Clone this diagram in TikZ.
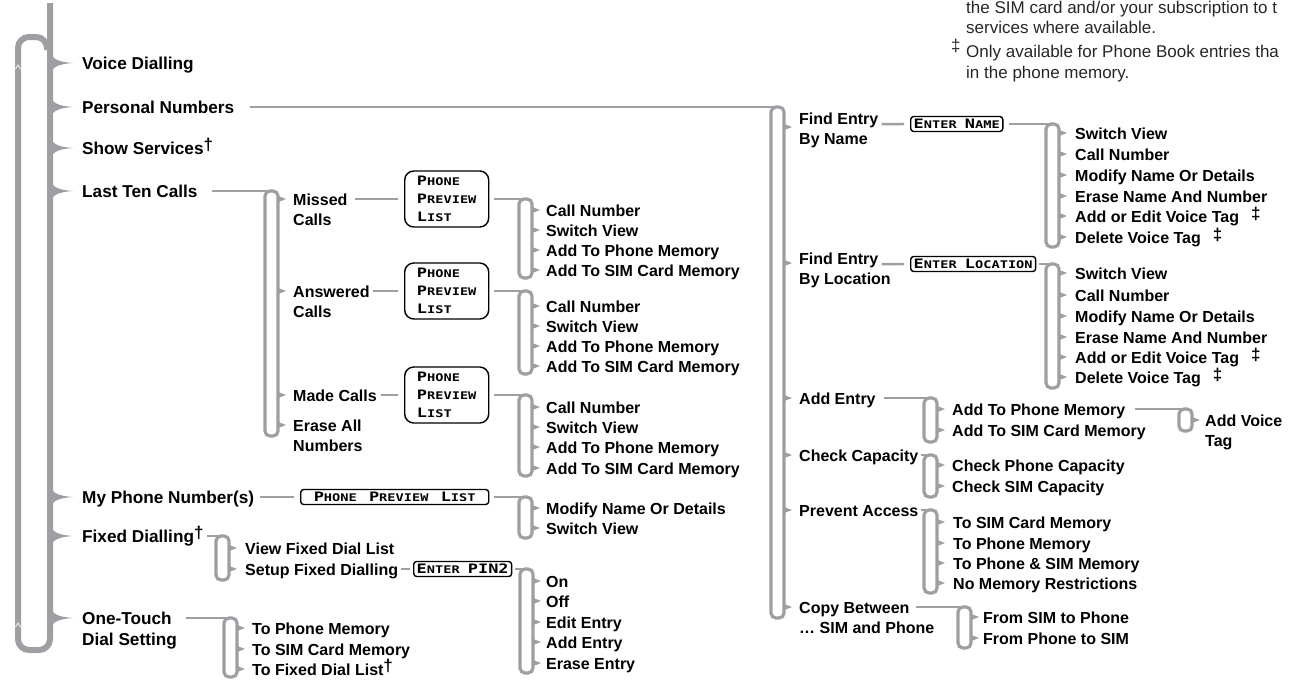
\documentclass[tikz,border=0pt]{standalone}
\usepackage{fontspec}
\setmainfont{Liberation Sans}
\newfontfamily\lcdfont[FakeStretch=1.3]{DejaVu Sans Mono}
\definecolor{brkgray}{RGB}{158,158,163}
\newcommand\lcd[2]{{\fontsize{13}{18}\selectfont #1}#2}
\newcommand\dg{\raisebox{3.5pt}{\fontsize{17}{17}\selectfont\bfseries †}}
\newcommand\ddg{\raisebox{3pt}{\fontsize{17}{17}\selectfont\bfseries ‡}}

\begin{document}
\begin{tikzpicture}[x=1pt, y=-1pt,
	lbl/.style={anchor=west, inner sep=0pt, text height=12pt, text depth=0pt, font=\fontsize{16}{19}\selectfont\bfseries},
	mainlbl/.style={lbl, font=\fontsize{17.2}{20}\selectfont\bfseries},
	note/.style={anchor=west, inner sep=0pt, text height=12pt, text depth=0pt, font=\fontsize{17}{20}\selectfont, text=black!85},
	lcdbox/.style={draw=black, line width=1.4pt, rounded corners=3pt, inner xsep=3pt, inner ysep=0pt, minimum height=15pt, anchor=west, font=\lcdfont\bfseries\fontsize{10.5}{18}\selectfont},
	lcdbig/.style={lcdbox, rounded corners=9pt, align=left, minimum width=84pt, minimum height=56pt},
	conn/.style={draw=brkgray, line width=2.4pt},
	brk/.style={draw=brkgray, line width=3.2pt, rounded corners=5pt},
	mainbrk/.style={draw=brkgray, line width=6pt, rounded corners=11pt},
	brktick/.pic={\fill[brkgray] (-1,-3.5) -- (8,0) -- (-1,3.5) -- cycle;},
	maintip/.pic={\fill[brkgray] (0,-12) .. controls (2,-3) and (10,-1) .. (23,0) .. controls (10,1) and (2,3) .. (0,12) -- cycle;}
	]
	\useasboundingbox (0,0) rectangle (1292,680);
	\clip (0,0) rectangle (1292,680);
	
	% ----- Hauptklammer -----
	\draw[mainbrk] (50,3) -- (50,650) -- (18,650) -- (18,37) -- (47,37) -- (47,50);
	\draw[white, line width=0.7pt] (15.5,69) -- (18,65) -- (20.5,69);
	\draw[white, line width=0.7pt] (15.5,627) -- (18,623) -- (20.5,627);
	\foreach \t in {63,107,148,191,497,536,618} \pic at (50,\t) {maintip};
	
	% Hauptmenue
	\node[mainlbl] (vd) at (82,63) {Voice Dialling};
	\node[mainlbl] (pn) at (82,107) {Personal Numbers};
	\node[mainlbl] (ss) at (82,148) {Show Services\dg};
	\node[mainlbl] (ltc) at (82,191) {Last Ten Calls};
	\node[mainlbl] (mpn) at (82,497) {My Phone Number(s)};
	\node[mainlbl] (fd) at (82,536) {Fixed Dialling\dg};
	\node[mainlbl] (ot) at (82,618) {One-Touch};
	\node[mainlbl] (ot2) at (82,639) {Dial Setting};
	
	% ----- Last Ten Calls -----
	\coordinate (bltc) at (271,191);
	\draw[conn, shorten <=14pt] (ltc.east) -- (bltc);
	\draw[brk] (265,191) rectangle (278,436);
	\foreach \t in {199,291,395,425} \pic at (278,\t) {brktick};
	\node[lbl] (mc) at (293,199) {Missed};
	\node[lbl] (mc2) at (293,219) {Calls};
	\node[lbl] (ac) at (293,291) {Answered};
	\node[lbl] (ac2) at (293,311) {Calls};
	\node[lbl] (md) at (293,395) {Made Calls};
	\node[lbl] (ea) at (293,425) {Erase All};
	\node[lbl] (ea2) at (293,445) {Numbers};
	
	% Phone Preview List
	\node[lcdbig] (ppl1) at (404,199) {\lcd{P}{HONE}\\\lcd{P}{REVIEW}\\\lcd{L}{IST}};
	\node[lcdbig] (ppl2) at (404,291) {\lcd{P}{HONE}\\\lcd{P}{REVIEW}\\\lcd{L}{IST}};
	\node[lcdbig] (ppl3) at (404,395) {\lcd{P}{HONE}\\\lcd{P}{REVIEW}\\\lcd{L}{IST}};
	\draw[conn, shorten <=7pt, shorten >=6pt] (mc.east) -- (ppl1.west);
	\draw[conn, shorten <=3pt, shorten >=6pt] (ac.east) -- (ppl2.west);
	\draw[conn, shorten <=4pt, shorten >=6pt] (md.east) -- (ppl3.west);
	
	% Missed Calls
	\coordinate (bppl1) at (525,199);
	\draw[conn, shorten <=5pt] (ppl1.east) -- (bppl1);
	\draw[brk] (519,199) rectangle (532,278);
	\foreach \t in {210,230,250,270} \pic at (532,\t) {brktick};
	\node[lbl] (cn1) at (546,210) {Call Number};
	\node[lbl] (sv1) at (546,230) {Switch View};
	\node[lbl] (ap1) at (546,250) {Add To Phone Memory};
	\node[lbl] (as1) at (546,270) {Add To SIM Card Memory};
	
	% Answered Calls
	\coordinate (bppl2) at (525,291);
	\draw[conn, shorten <=5pt] (ppl2.east) -- (bppl2);
	\draw[brk] (519,291) rectangle (532,374);
	\foreach \t in {306,326,346,366} \pic at (532,\t) {brktick};
	\node[lbl] (cn2) at (546,306) {Call Number};
	\node[lbl] (sv2) at (546,326) {Switch View};
	\node[lbl] (ap2) at (546,346) {Add To Phone Memory};
	\node[lbl] (as2) at (546,366) {Add To SIM Card Memory};
	
	% Made Calls
	\coordinate (bppl3) at (525,395);
	\draw[conn, shorten <=5pt] (ppl3.east) -- (bppl3);
	\draw[brk] (519,395) rectangle (532,476);
	\foreach \t in {407,427,447,468} \pic at (532,\t) {brktick};
	\node[lbl] (cn3) at (546,407) {Call Number};
	\node[lbl] (sv3) at (546,427) {Switch View};
	\node[lbl] (ap3) at (546,447) {Add To Phone Memory};
	\node[lbl] (as3) at (546,468) {Add To SIM Card Memory};
	
	% ----- My Phone Number(s) -----
	\node[lcdbox, minimum width=188pt] (ppl4) at (300,497) {\lcd{P}{HONE}\hspace{4pt} \lcd{P}{REVIEW}\hspace{4pt} \lcd{L}{IST}};
	\draw[conn, shorten <=6pt, shorten >=6pt] (mpn.east) -- (ppl4.west);
	\coordinate (bppl4) at (525,497);
	\draw[conn, shorten <=5pt] (ppl4.east) -- (bppl4);
	\draw[brk] (519,497) rectangle (532,538);
	\foreach \t in {508,528} \pic at (532,\t) {brktick};
	\node[lbl] (mnd4) at (546,508) {Modify Name Or Details};
	\node[lbl] (sv4) at (546,528) {Switch View};
	
	% ----- Fixed Dialling -----
	\coordinate (bfd) at (222,536);
	\draw[conn, shorten <=3pt] (fd.east) -- (bfd);
	\draw[brk] (216,536) rectangle (229,580);
	\foreach \t in {548,569} \pic at (229,\t) {brktick};
	\node[lbl] (vfd) at (245,548) {View Fixed Dial List};
	\node[lbl] (sfd) at (245,569) {Setup Fixed Dialling};
	\node[lcdbox] (pin) at (413,569) {\lcd{E}{NTER} \lcd{PIN2}{}};
	\draw[conn, shorten <=3pt, shorten >=3pt] (sfd.east) -- (pin.west);
	\coordinate (bpin) at (526,569);
	\draw[conn, shorten <=3pt] (pin.east) -- (bpin);
	\draw[brk] (520,569) rectangle (533,673);
	\foreach \t in {581,601,622,642,663} \pic at (533,\t) {brktick};
	\node[lbl] (on) at (546,581) {On};
	\node[lbl] (off) at (546,601) {Off};
	\node[lbl] (ede) at (546,622) {Edit Entry};
	\node[lbl] (ade) at (546,642) {Add Entry};
	\node[lbl] (ere) at (546,663) {Erase Entry};
	
	% ----- One-Touch Dial Setting -----
	\coordinate (bot) at (230,618);
	\draw[conn, shorten <=14pt] (ot.east) -- (bot);
	\draw[brk] (224,618) rectangle (237,677);
	\foreach \t in {628,649,669} \pic at (237,\t) {brktick};
	\node[lbl] (otp) at (252,628) {To Phone Memory};
	\node[lbl] (ots) at (252,649) {To SIM Card Memory};
	\node[lbl] (otf) at (252,669) {To Fixed Dial List\dg};
	
	% ----- Personal Numbers -----
	\coordinate (bpn) at (777,107);
	\draw[conn, shorten <=16pt] (pn.east) -- (bpn);
	\draw[brk] (771,107) rectangle (784,618);
	\foreach \t in {127,263,398,455,510,607} \pic at (784,\t) {brktick};
	
	% Find Entry By Name
	\node[lbl] (fen) at (799,118) {Find Entry};
	\node[lbl] (fen2) at (799,138) {By Name};
	\node[lcdbox] (ename) at (910,124) {\lcd{E}{NTER} \lcd{N}{AME}};
	\draw[conn, shorten <=3pt, shorten >=6pt] (fen.south east) -- (ename.west);
	\coordinate (bename) at (1052,124);
	\draw[conn, shorten <=5pt] (ename.east) -- (bename);
	\draw[brk] (1046,124) rectangle (1059,247);
	\foreach \t in {133,154,175,196,216,237} \pic at (1059,\t) {brktick};
	\node[lbl] (sv5) at (1075,133) {Switch View};
	\node[lbl] (cn5) at (1075,154) {Call Number};
	\node[lbl] (mnd5) at (1075,175) {Modify Name Or Details};
	\node[lbl] (enn5) at (1075,196) {Erase Name And Number};
	\node[lbl] (avt5) at (1075,216) {Add or Edit Voice Tag\hspace{12pt}\ddg};
	\node[lbl] (dvt5) at (1075,237) {Delete Voice Tag\hspace{12pt}\ddg};
	
	% Find Entry By Location
	\node[lbl] (fel) at (799,258) {Find Entry};
	\node[lbl] (fel2) at (799,278) {By Location};
	\node[lcdbox] (eloc) at (910,264) {\lcd{E}{NTER} \lcd{L}{OCATION}};
	\draw[conn, shorten <=3pt, shorten >=6pt] (fel.south east) -- (eloc.west);
	\coordinate (beloc) at (1052,264);
	\draw[conn, shorten <=3pt] (eloc.east) -- (beloc);
	\draw[brk] (1046,264) rectangle (1059,388);
	\foreach \t in {273,295,316,337,357,377} \pic at (1059,\t) {brktick};
	\node[lbl] (sv6) at (1075,273) {Switch View};
	\node[lbl] (cn6) at (1075,295) {Call Number};
	\node[lbl] (mnd6) at (1075,316) {Modify Name Or Details};
	\node[lbl] (enn6) at (1075,337) {Erase Name And Number};
	\node[lbl] (avt6) at (1075,357) {Add or Edit Voice Tag\hspace{12pt}\ddg};
	\node[lbl] (dvt6) at (1075,377) {Delete Voice Tag\hspace{12pt}\ddg};
	
	% Add Entry
	\node[lbl] (ae) at (799,398) {Add Entry};
	\coordinate (bae) at (930,398);
	\draw[conn, shorten <=8pt] (ae.east) -- (bae);
	\draw[brk] (924,398) rectangle (937,442);
	\foreach \t in {409,430} \pic at (937,\t) {brktick};
	\node[lbl] (atp) at (952,409) {Add To Phone Memory};
	\node[lbl] (ats) at (952,430) {Add To SIM Card Memory};
	\coordinate (bav) at (1185,409);
	\draw[conn, shorten <=10pt] (atp.east) -- (bav);
	\draw[brk] (1179,409) rectangle (1192,431);
	\pic at (1192,420) {brktick};
	\node[lbl] (av) at (1205,420) {Add Voice};
	\node[lbl] (av2) at (1205,440) {Tag};
	
	% Check Capacity
	\node[lbl] (cc) at (799,455) {Check Capacity};
	\coordinate (bcc) at (930,455);
	\draw[conn, shorten <=2pt] (cc.east) -- (bcc);
	\draw[brk] (924,455) rectangle (937,497);
	\foreach \t in {465,486} \pic at (937,\t) {brktick};
	\node[lbl] (cpc) at (952,465) {Check Phone Capacity};
	\node[lbl] (csc) at (952,486) {Check SIM Capacity};
	
	% Prevent Access
	\node[lbl] (pa) at (799,510) {Prevent Access};
	\coordinate (bpa) at (930,510);
	\draw[conn, shorten <=2pt] (pa.east) -- (bpa);
	\draw[brk] (924,510) rectangle (937,593);
	\foreach \t in {522,543,563,583} \pic at (937,\t) {brktick};
	\node[lbl] (pas) at (953,522) {To SIM Card Memory};
	\node[lbl] (pap) at (953,543) {To Phone Memory};
	\node[lbl] (paps) at (953,563) {To Phone \& SIM Memory};
	\node[lbl] (pan) at (953,583) {No Memory Restrictions};
	
	% Copy Between
	\node[lbl] (cb) at (799,607) {Copy Between};
	\node[lbl] (cb2) at (799,627) {… SIM and Phone};
	\coordinate (bcb) at (964,607);
	\draw[conn, shorten <=6pt] (cb.east) -- (bcb);
	\draw[brk] (958,607) rectangle (971,648);
	\foreach \t in {617,638} \pic at (971,\t) {brktick};
	\node[lbl] (cbs) at (983,617) {From SIM to Phone};
	\node[lbl] (cbp) at (983,638) {From Phone to SIM};
	
	% ----- Fussnoten -----
	\node[note] (nt1) at (966,7) {the SIM card and/or your subscription to t};
	\node[note] (nt2) at (966,27) {services where available.};
	\node[note] (ntd) at (951,45) {‡};
	\node[note] (nt3) at (966,51) {Only available for Phone Book entries tha};
	\node[note] (nt4) at (966,72) {in the phone memory.};
	
\end{tikzpicture}
\end{document}
